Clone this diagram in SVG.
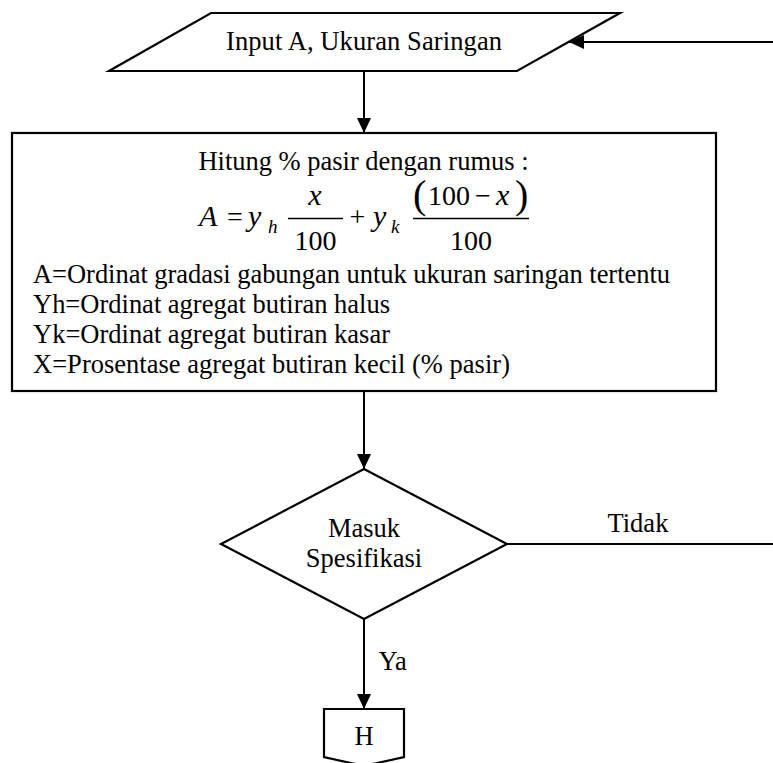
<svg xmlns="http://www.w3.org/2000/svg" width="773" height="763" viewBox="0 0 773 763">
  <style>
    .shape { fill: #ffffff; stroke: #000000; stroke-width: 2.2; }
    .conn { fill: none; stroke: #000000; stroke-width: 2; }
    text { font-family: "Liberation Serif", "Times New Roman", serif; fill: #000000; }
    .t { font-size: 26.5px; }
    .m { font-size: 28px; }
    .mi { font-size: 30px; font-style: italic; }
    .sub { font-size: 19px; font-style: italic; }
    .paren { font-size: 40px; }
  </style>
  <defs>
    <marker id="arrow" markerUnits="userSpaceOnUse" markerWidth="15" markerHeight="14" refX="15" refY="7" orient="auto">
      <path d="M0,0 L15,7 L0,14 Z" fill="#000000"/>
    </marker>
  </defs>

  <rect x="0" y="0" width="773" height="763" fill="#ffffff"/>

  <!-- connectors -->
  <g id="connectors">
    <line class="conn" x1="364" y1="71" x2="364" y2="133" marker-end="url(#arrow)"/>
    <line class="conn" x1="364" y1="391" x2="364" y2="469" marker-end="url(#arrow)"/>
    <line class="conn" x1="364" y1="619" x2="364" y2="709" marker-end="url(#arrow)"/>
    <path class="conn" d="M507,544 H776 V42 H569" marker-end="url(#arrow)"/>
    <text class="t" x="607.5" y="531.5">Tidak</text>
    <text class="t" x="378.5" y="670">Ya</text>
  </g>

  <!-- input: parallelogram -->
  <g id="input">
    <polygon class="shape" points="211,13 620,13 517,71 109,71"/>
    <text class="t" x="226" y="50" textLength="276">Input A, Ukuran Saringan</text>
  </g>

  <!-- process: percentage of sand -->
  <g id="process">
    <rect class="shape" x="12" y="133" width="704" height="258"/>
    <text class="t" x="198.5" y="170" textLength="330">Hitung % pasir dengan rumus :</text>
    <!-- A = y_h x/100 + y_k (100 - x)/100 -->
    <text class="mi" x="199" y="226">A</text>
    <text class="m" x="235" y="226" text-anchor="middle">=</text>
    <text class="mi" x="248" y="226">y</text>
    <text class="sub" x="268" y="233">h</text>
    <line x1="288" y1="218.5" x2="343" y2="218.5" stroke="#000000" stroke-width="1.6"/>
    <text class="mi" x="315" y="205" text-anchor="middle">x</text>
    <text class="m" x="315.5" y="250" text-anchor="middle">100</text>
    <text class="m" x="357.5" y="226" text-anchor="middle">+</text>
    <text class="mi" x="373" y="226">y</text>
    <text class="sub" x="391" y="233">k</text>
    <line x1="413" y1="218.5" x2="529" y2="218.5" stroke="#000000" stroke-width="1.6"/>
    <text class="paren" x="413" y="208">(</text>
    <text class="m" x="428" y="205">100</text>
    <text class="m" x="475" y="205">−</text>
    <text class="mi" x="496" y="205">x</text>
    <text class="paren" x="515" y="208">)</text>
    <text class="m" x="471" y="250" text-anchor="middle">100</text>
    <text class="t" x="33" y="283" textLength="637">A=Ordinat gradasi gabungan untuk ukuran saringan tertentu</text>
    <text class="t" x="33" y="313" textLength="357">Yh=Ordinat agregat butiran halus</text>
    <text class="t" x="33" y="342.5" textLength="357">Yk=Ordinat agregat butiran kasar</text>
    <text class="t" x="33" y="372.5" textLength="477">X=Prosentase agregat butiran kecil (% pasir)</text>
  </g>

  <!-- decision -->
  <g id="decision">
    <polygon class="shape" points="364,469 507,544 364,619 221,544"/>
    <text class="t" x="364" y="537" text-anchor="middle">Masuk</text>
    <text class="t" x="364" y="567" text-anchor="middle">Spesifikasi</text>
  </g>

  <!-- off-page connector H -->
  <g id="offpage-h">
    <path class="shape" d="M324,709 H404 V757 L364,766 L324,757 Z"/>
    <text class="t" x="364" y="745" text-anchor="middle">H</text>
  </g>
</svg>
